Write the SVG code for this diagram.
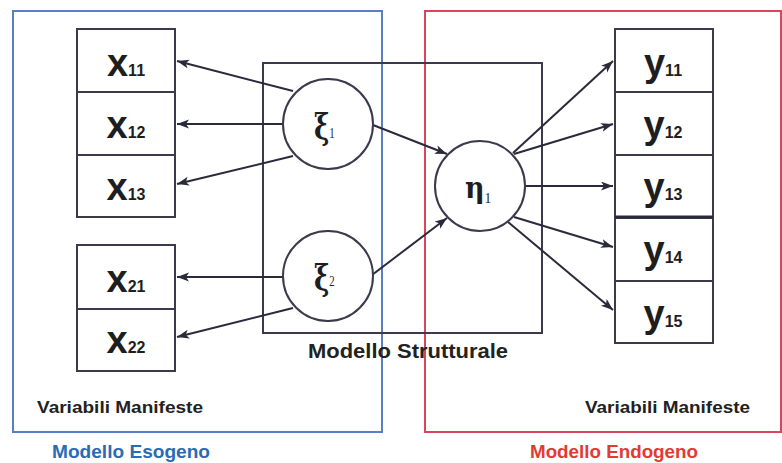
<svg xmlns="http://www.w3.org/2000/svg" width="782" height="463" viewBox="0 0 782 463">
<style>
.box{fill:#fff;stroke:#3a3a4c;stroke-width:2}
.circ{fill:#fff;stroke:#3a3a4c;stroke-width:2}
.var{font-family:"Liberation Sans",Arial,sans-serif;font-weight:bold;fill:#1e1e1e}
.big{font-size:38px}
.sub{font-size:16px}
.greek{font-family:"DejaVu Serif","Liberation Serif",serif;fill:#1e1e1e}
.gl{font-weight:bold}
.gsub{font-family:"Liberation Serif","DejaVu Serif",serif;font-size:15px;font-weight:normal}
.lbl{font-family:"Liberation Sans",Arial,sans-serif;font-weight:bold;fill:#222}
.conn line{stroke:#2a2a3a;stroke-width:2;marker-end:url(#arr)}
</style>
<defs>
<marker id="arr" markerUnits="userSpaceOnUse" markerWidth="14" markerHeight="10" refX="12" refY="4.5" orient="auto">
<path d="M0,0 L12,4.5 L0,9 L3,4.5 z" fill="#2a2a3a"/>
</marker>
</defs>
<rect width="782" height="463" fill="#fff"/>
<g id="modello-esogeno">
<rect x="13" y="11" width="369" height="421" fill="none" stroke="#5a7ec4" stroke-width="2"/>
<text class="lbl" x="52" y="458" font-size="19" style="fill:#2a6bb5" textLength="158" lengthAdjust="spacingAndGlyphs">Modello Esogeno</text>
<text class="lbl" x="37" y="413" font-size="17" textLength="166" lengthAdjust="spacingAndGlyphs">Variabili Manifeste</text>
</g>
<g id="modello-endogeno">
<rect x="425" y="11" width="356" height="421" fill="none" stroke="#d9455a" stroke-width="2"/>
<text class="lbl" x="530" y="458" font-size="19" style="fill:#e23b33" textLength="168" lengthAdjust="spacingAndGlyphs">Modello Endogeno</text>
<text class="lbl" x="585" y="413" font-size="17" textLength="165" lengthAdjust="spacingAndGlyphs">Variabili Manifeste</text>
</g>
<g id="modello-strutturale">
<rect x="263" y="63" width="279" height="270" fill="none" stroke="#3a3a4c" stroke-width="2"/>
<text class="lbl" x="308" y="358" font-size="21" textLength="200" lengthAdjust="spacingAndGlyphs">Modello Strutturale</text>
</g>
<g class="conn" id="connectors">
<line x1="293" y1="91" x2="177" y2="61"/>
<line x1="283" y1="124" x2="177" y2="124"/>
<line x1="293" y1="156" x2="177" y2="184"/>
<line x1="283" y1="277" x2="177" y2="277"/>
<line x1="293" y1="308" x2="177" y2="337"/>
<line x1="373" y1="125" x2="447" y2="154"/>
<line x1="372" y1="275" x2="447" y2="218"/>
<line x1="513" y1="153" x2="613" y2="61"/>
<line x1="514" y1="154" x2="613" y2="124"/>
<line x1="525" y1="186" x2="613" y2="186"/>
<line x1="514" y1="217" x2="613" y2="247"/>
<line x1="508" y1="222" x2="613" y2="310"/>
</g>
<g id="x11"><rect class="box" x="77" y="29" width="98" height="63"/><text class="var" x="126" y="76" text-anchor="middle"><tspan class="big">x</tspan><tspan class="sub">11</tspan></text></g>
<g id="x12"><rect class="box" x="77" y="92" width="98" height="63"/><text class="var" x="126" y="138" text-anchor="middle"><tspan class="big">x</tspan><tspan class="sub">12</tspan></text></g>
<g id="x13"><rect class="box" x="77" y="155" width="98" height="62"/><text class="var" x="126" y="200" text-anchor="middle"><tspan class="big">x</tspan><tspan class="sub">13</tspan></text></g>
<g id="x21"><rect class="box" x="77" y="245" width="98" height="64"/><text class="var" x="126" y="292" text-anchor="middle"><tspan class="big">x</tspan><tspan class="sub">21</tspan></text></g>
<g id="x22"><rect class="box" x="77" y="309" width="98" height="62"/><text class="var" x="126" y="353" text-anchor="middle"><tspan class="big">x</tspan><tspan class="sub">22</tspan></text></g>
<g id="y11"><rect class="box" x="615" y="29" width="98" height="63"/><text class="var" x="663" y="76" text-anchor="middle"><tspan class="big">y</tspan><tspan class="sub">11</tspan></text></g>
<g id="y12"><rect class="box" x="615" y="92" width="98" height="63"/><text class="var" x="663" y="138" text-anchor="middle"><tspan class="big">y</tspan><tspan class="sub">12</tspan></text></g>
<g id="y13"><rect class="box" x="615" y="155" width="98" height="62"/><text class="var" x="663" y="200" text-anchor="middle"><tspan class="big">y</tspan><tspan class="sub">13</tspan></text></g>
<g id="y14"><rect class="box" x="615" y="218" width="98" height="63"/><line x1="615" y1="217" x2="713" y2="217" stroke="#2a2a3a" stroke-width="3"/><text class="var" x="663" y="263" text-anchor="middle"><tspan class="big">y</tspan><tspan class="sub">14</tspan></text></g>
<g id="y15"><rect class="box" x="615" y="281" width="98" height="62"/><text class="var" x="663" y="327" text-anchor="middle"><tspan class="big">y</tspan><tspan class="sub">15</tspan></text></g>
<g id="xi1"><circle class="circ" cx="328" cy="124" r="45"/><text class="greek" transform="translate(314,139) scale(0.72,1)"><tspan class="gl" font-size="36">ξ</tspan><tspan class="gsub" dy="-1">1</tspan></text></g>
<g id="xi2"><circle class="circ" cx="328" cy="276" r="45"/><text class="greek" transform="translate(314,290) scale(0.72,1)"><tspan class="gl" font-size="36">ξ</tspan><tspan class="gsub" dy="-4">2</tspan></text></g>
<g id="eta1"><circle class="circ" cx="480" cy="186" r="45"/><text class="greek" transform="translate(465,198) scale(0.9,1)"><tspan class="gl" font-size="30">η</tspan><tspan class="gsub" dy="5">1</tspan></text></g>
</svg>
